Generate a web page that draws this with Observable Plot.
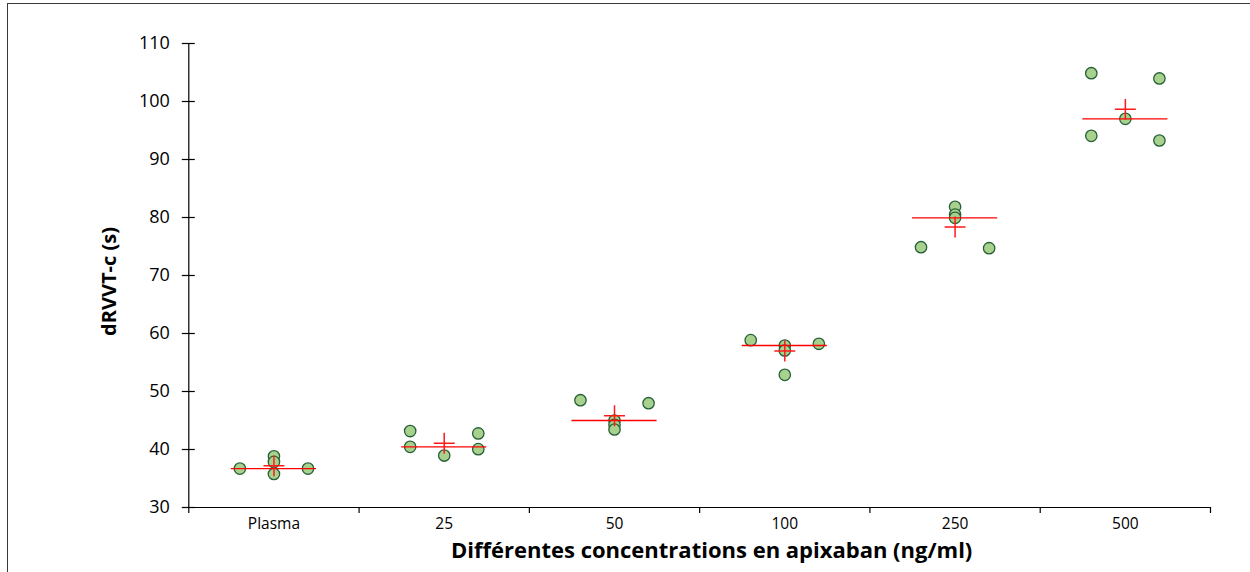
<!DOCTYPE html>
<html><head><meta charset="utf-8">
<script src="https://cdn.jsdelivr.net/npm/d3@7"></script>
<script src="https://cdn.jsdelivr.net/npm/@observablehq/plot@0.6"></script>
<style>
body{margin:0;background:#fff;}
#wrap{position:relative;width:1250px;height:572px;overflow:hidden;}
#wrap svg{position:absolute;left:0;top:0;}
#border{position:absolute;left:7px;top:3px;width:1300px;height:600px;border-left:1.5px solid #3a3a3a;border-top:1.5px solid #3a3a3a;pointer-events:none;}
</style></head><body><div id="wrap"><div id="border"></div></div>
<script>
// Categories (x axis)
const categories = ["Plasma", "25", "50", "100", "250", "500"];
// Measured dRVVT-c values (s) per category
const valuesPlasma = [36.71, 38.84, 37.86, 35.78, 36.71];
const values25     = [43.18, 40.46, 38.96, 42.77, 40.06];
const values50     = [48.50, 45.00, 44.25, 43.45, 47.98];
const values100    = [58.85, 57.93, 57.07, 52.87, 58.22];
const values250    = [74.88, 81.84, 80.52, 79.94, 74.71];
const values500    = [104.88, 94.08, 97.01, 103.97, 93.28];
// Column of each point within its category (-1 left, 0 centre, 1 right)
const slotsPlasma = [-1, 0, 0, 0, 1];
const slots25     = [-1, -1, 0, 1, 1];
const slots50     = [-1, 0, 0, 0, 1];
const slots100    = [-1, 0, 0, 0, 1];
const slots250    = [-1, 0, 0, 0, 1];
const slots500    = [-1, -1, 0, 1, 1];
// Axis ticks and titles
const yTicks = [30, 40, 50, 60, 70, 80, 90, 100, 110];
const xTitle = "Différentes concentrations en apixaban (ng/ml)";
const yTitle = "dRVVT-c (s)";

const series = [valuesPlasma, values25, values50, values100, values250, values500];
const slotSets = [slotsPlasma, slots25, slots50, slots100, slots250, slots500];
const points = categories.flatMap((c, i) => series[i].map((v, j) => ({cat: c, i, slot: slotSets[i][j], v})));
const stats = categories.map((c, i) => ({cat: c, i, median: d3.median(series[i]), mean: d3.mean(series[i])}));
const SPREAD = 0.2, HALF = 0.25;
const boundaries = d3.range(categories.length + 1);
const centers = categories.map((c, i) => i + 0.5);

const chart = Plot.plot({
  width: 1250, height: 572,
  marginLeft: 188.3, marginRight: 40, marginTop: 43, marginBottom: 65,
  x: {type: "linear", domain: [0, categories.length], axis: null},
  y: {domain: [30, 110], axis: null},
  style: {fontFamily: "'Open Sans', sans-serif", color: "#000", background: "transparent", overflow: "visible"},
  marks: [
    Plot.axisY(yTicks, {tickSize: 13, dx: 6.5, tickPadding: 12.5, fontSize: 18, tickFormat: d => String(d), strokeWidth: 1.2}),
    Plot.axisX(boundaries, {tickSize: 6, tickFormat: () => "", strokeWidth: 1.2}),
    Plot.axisX(centers, {tickSize: 0, tickPadding: 10, fontSize: 15.5, tickFormat: d => categories[Math.floor(d)]}),
    Plot.ruleX([0], {stroke: "#000", strokeWidth: 1.2}),
    Plot.ruleY([30], {stroke: "#000", strokeWidth: 1.2}),
    Plot.dot(points, {x: d => d.i + 0.5 + d.slot * SPREAD, y: "v", r: 5.7, fill: "#a9d18e", stroke: "#256038", strokeWidth: 1.3}),
    Plot.ruleY(stats, {y: "median", x1: d => d.i + 0.5 - HALF, x2: d => d.i + 0.5 + HALF, stroke: "#ff0000", strokeWidth: 1.3}),
    Plot.dot(stats, {x: d => d.i + 0.5, y: "mean", symbol: "plus", r: 6.8, stroke: "#ff1a1a", strokeWidth: 1.5}),
    Plot.text([xTitle], {text: d => d, frameAnchor: "bottom", dx: 12, dy: 50, fontSize: 22, fontWeight: "bold"}),
    Plot.text([yTitle], {text: d => d, frameAnchor: "left", textAnchor: "middle", rotate: -90, dx: -79, dy: 6, fontSize: 20, fontWeight: "bold"})
  ]
});
document.getElementById("wrap").prepend(chart);
</script>
</body></html>
